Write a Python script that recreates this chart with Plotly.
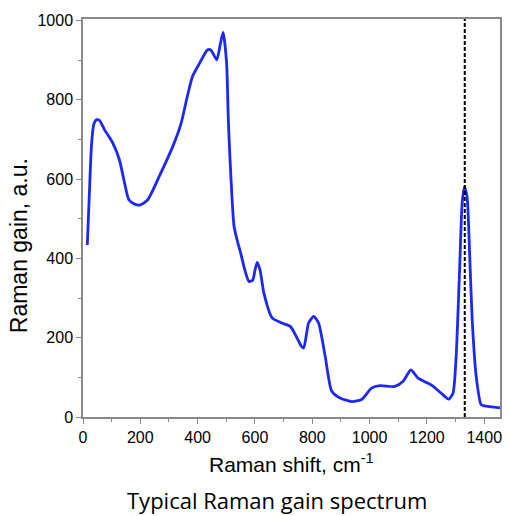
import plotly.graph_objects as go

shift_cm = [15, 22, 30, 38, 48, 58, 75, 104, 127, 145,
            160, 180, 200, 226, 266, 313, 342, 365, 382, 405,
            434, 446, 455, 467, 479, 489, 501, 507, 512,
            527, 540, 550, 565, 579, 592, 600, 608, 618, 631,
            660, 694, 724, 747, 762, 770, 780, 787, 805, 822,
            845, 868, 897, 938, 972, 1007, 1036, 1088, 1117, 1144,
            1169, 1215, 1250, 1276, 1291, 1302, 1314, 1323, 1331, 1340,
            1349, 1358, 1372, 1389, 1401, 1455]
gain = [434, 560, 690, 740, 750, 748, 725, 691, 649, 590,
        548, 537, 535, 548, 607, 682, 740, 812, 859, 890,
        926, 926, 915, 901, 940, 970, 893, 750, 666,
        481, 440, 414, 370, 342, 345, 370, 390, 370, 313,
        250, 237, 228, 199, 178, 174, 210, 237, 254, 237,
        153, 65, 48, 39, 44, 73, 79, 77, 90, 119,
        98, 81, 60, 45, 60, 153, 371, 540, 580, 556,
        413, 245, 102, 31, 28, 23]
diamond_line = 1332
x_ticks = [0, 200, 400, 600, 800, 1000, 1200, 1400]
y_ticks = [0, 200, 400, 600, 800, 1000]

fig = go.Figure()
fig.add_trace(go.Scatter(x=shift_cm, y=gain, mode="lines",
                         line=dict(color="rgb(30,40,245)", width=2.8, shape="spline", smoothing=0.6),
                         showlegend=False))
fig.add_trace(go.Scatter(x=[diamond_line, diamond_line], y=[0, 1004], mode="lines",
                         line=dict(color="black", width=2, dash="4px,2px"),
                         showlegend=False))

axis_common = dict(showline=True, linecolor="#8a8a8a", linewidth=1.5, mirror=True,
                   showgrid=False, zeroline=False, ticks="outside", ticklen=5,
                   tickcolor="#8a8a8a", tickwidth=1.2,
                   tickfont=dict(family="Liberation Sans, Arial", size=16, color="black"))

fig.update_xaxes(range=[0, 1455], tickvals=x_ticks, **axis_common,
                 minor=dict(dtick=100, ticklen=3, ticks="outside", tickcolor="#8a8a8a"))
fig.update_yaxes(range=[0, 1004], tickvals=y_ticks, **axis_common,
                 minor=dict(dtick=100, ticklen=3, ticks="outside", tickcolor="#8a8a8a"))

fig.update_layout(
    width=510, height=516,
    margin=dict(l=83, r=8, t=19, b=99),
    paper_bgcolor="white", plot_bgcolor="white",
    annotations=[
        dict(text="Raman gain, a.u.", xref="paper", yref="paper", x=-0.155, y=0.43,
             xanchor="center", yanchor="middle", textangle=-90, showarrow=False,
             font=dict(family="Liberation Sans, Arial", size=23, color="black")),
        dict(text="Raman shift, cm<sup>-1</sup>", xref="paper", yref="paper", x=0.5, y=-0.115,
             xanchor="center", yanchor="middle", showarrow=False,
             font=dict(family="Liberation Sans, Arial", size=21, color="black")),
        dict(text="Typical Raman gain spectrum", xref="paper", yref="paper", x=0.465, y=-0.208,
             xanchor="center", yanchor="middle", showarrow=False,
             font=dict(family="Open Sans", size=22, color="black")),
    ],
)

fig.write_html("out.html")
